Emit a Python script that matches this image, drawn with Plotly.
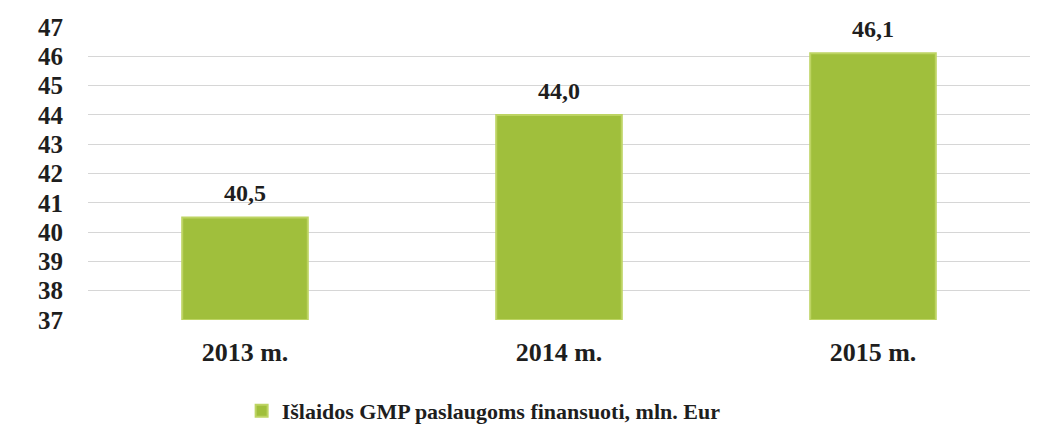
import plotly.graph_objects as go

years = ["2013 m.", "2014 m.", "2015 m."]
spending = [40.5, 44.0, 46.1]
value_labels = ["40,5", "44,0", "46,1"]
series_name = "Išlaidos GMP paslaugoms finansuoti, mln. Eur"
axis_floor = 37

SERIF = "Liberation Serif, Times New Roman, serif"
INK = "#1e1e1e"

fig = go.Figure()
fig.add_trace(
    go.Bar(
        x=years,
        y=[v - axis_floor for v in spending],
        base=axis_floor,
        name=series_name,
        width=0.4,
        marker={
            "color": "#a0bf3c",
            "line": {"color": "#bdd463", "width": 2},
        },
        hoverinfo="skip",
    )
)

for year, value, label in zip(years, spending, value_labels):
    fig.add_annotation(
        x=year,
        y=value,
        text=label,
        showarrow=False,
        yanchor="bottom",
        yshift=9,
        font={"family": SERIF, "size": 24, "color": INK, "weight": "bold"},
    )

# page body adds an 8px margin, so the figure is sized to fit the window
fig.update_layout(
    width=1031,
    height=416,
    paper_bgcolor="white",
    plot_bgcolor="white",
    margin={"l": 80, "r": 9, "t": 19, "b": 104, "autoexpand": False},
    font={"family": SERIF, "color": INK},
    showlegend=True,
    legend={
        "orientation": "h",
        "x": 0.42,
        "xanchor": "center",
        "y": -0.31,
        "yanchor": "middle",
        "font": {"family": SERIF, "size": 22, "color": INK, "weight": "bold"},
    },
)
fig.update_xaxes(
    automargin=False,
    showgrid=False,
    showline=False,
    ticks="",
    ticklabelstandoff=14,
    tickfont={"family": SERIF, "size": 26, "color": INK, "weight": "bold"},
)
fig.update_yaxes(
    automargin=False,
    range=[axis_floor, 47],
    dtick=1,
    showgrid=True,
    gridcolor="#d6d6d6",
    gridwidth=1,
    zeroline=False,
    showline=False,
    tickfont={"family": SERIF, "size": 25, "color": INK, "weight": "bold"},
    ticklabelstandoff=24,
)

fig.write_html("out.html")
